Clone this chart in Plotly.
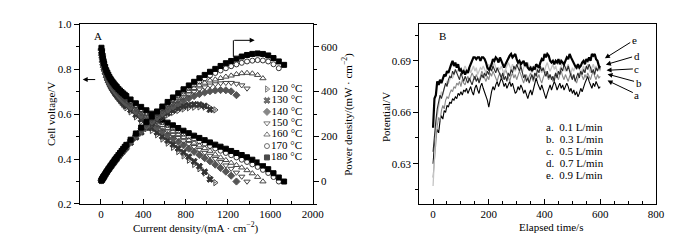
import plotly.graph_objects as go

# ---------------- Panel A data ----------------
TEMPS = ["120 °C", "130 °C", "140 °C", "150 °C", "160 °C", "170 °C", "180 °C"]

CURRENT = [5, 10, 15, 20, 25, 30, 40, 50, 60, 70, 80, 90, 100, 110, 120, 130, 140, 150,
           165, 180, 195, 210, 225, 240,
           280, 330, 380, 430, 480, 530, 580, 630, 680, 730, 780, 830, 880, 930, 980,
           1030, 1080, 1130, 1180, 1230, 1280, 1330, 1380, 1430, 1480, 1530, 1580,
           1630, 1680, 1730]

V_120 = [0.88, 0.858, 0.84, 0.825, 0.812, 0.801, 0.783, 0.768, 0.755, 0.744, 0.734, 0.725,
         0.716, 0.708, 0.70, 0.693, 0.686, 0.679, 0.67, 0.661, 0.652, 0.644, 0.636, 0.628,
         0.61, 0.588, 0.567, 0.547, 0.527, 0.508, 0.489, 0.471, 0.452, 0.433, 0.414, 0.395,
         0.376, 0.357, 0.338, 0.318, 0.295]
V_130 = [0.88, 0.86, 0.842, 0.827, 0.815, 0.804, 0.786, 0.771, 0.759, 0.748, 0.738, 0.729,
         0.72, 0.712, 0.705, 0.698, 0.691, 0.685, 0.676, 0.667, 0.659, 0.651, 0.643, 0.636,
         0.618, 0.597, 0.577, 0.557, 0.538, 0.519, 0.501, 0.483, 0.465, 0.447, 0.43, 0.41,
         0.39, 0.368, 0.343, 0.31]
V_140 = [0.885, 0.862, 0.845, 0.83, 0.818, 0.808, 0.79, 0.776, 0.764, 0.754, 0.744, 0.735,
         0.727, 0.72, 0.713, 0.706, 0.70, 0.694, 0.685, 0.677, 0.669, 0.662, 0.655, 0.648,
         0.632, 0.612, 0.593, 0.575, 0.557, 0.54, 0.523, 0.507, 0.491, 0.476, 0.461, 0.446,
         0.432, 0.418, 0.404, 0.39, 0.375, 0.36, 0.344, 0.326, 0.30]
V_150 = [0.885, 0.865, 0.848, 0.834, 0.822, 0.812, 0.795, 0.781, 0.77, 0.76, 0.75, 0.742,
         0.734, 0.727, 0.72, 0.714, 0.708, 0.702, 0.694, 0.686, 0.678, 0.671, 0.664, 0.658,
         0.642, 0.623, 0.605, 0.587, 0.57, 0.554, 0.538, 0.523, 0.508, 0.494, 0.48, 0.467,
         0.454, 0.441, 0.428, 0.415, 0.401, 0.387, 0.372, 0.357, 0.34, 0.322, 0.30]
V_160 = [0.89, 0.868, 0.852, 0.838, 0.827, 0.817, 0.80, 0.786, 0.775, 0.765, 0.756, 0.748,
         0.74, 0.733, 0.726, 0.72, 0.714, 0.708, 0.70, 0.692, 0.685, 0.678, 0.672, 0.666,
         0.65, 0.632, 0.614, 0.597, 0.581, 0.566, 0.551, 0.537, 0.523, 0.51, 0.497, 0.484,
         0.472, 0.46, 0.448, 0.436, 0.42, 0.407, 0.395, 0.383, 0.373, 0.362, 0.35, 0.336,
         0.32, 0.30]
V_170 = [0.89, 0.87, 0.855, 0.84, 0.83, 0.82, 0.805, 0.79, 0.78, 0.77, 0.76, 0.752,
         0.745, 0.738, 0.732, 0.726, 0.72, 0.714, 0.706, 0.699, 0.692, 0.686, 0.68, 0.674,
         0.658, 0.64, 0.623, 0.607, 0.592, 0.578, 0.564, 0.551, 0.538, 0.525, 0.513, 0.501,
         0.49, 0.479, 0.468, 0.458, 0.447, 0.437, 0.427, 0.417, 0.407, 0.397, 0.387, 0.376,
         0.365, 0.352, 0.338, 0.32, 0.30]
V_180 = [0.895, 0.875, 0.86, 0.845, 0.835, 0.825, 0.81, 0.795, 0.785, 0.775, 0.765, 0.757,
         0.75, 0.743, 0.737, 0.731, 0.725, 0.72, 0.712, 0.705, 0.698, 0.692, 0.686, 0.68,
         0.665, 0.648, 0.632, 0.617, 0.602, 0.588, 0.575, 0.562, 0.55, 0.538, 0.526, 0.515,
         0.504, 0.494, 0.484, 0.474, 0.464, 0.455, 0.446, 0.436, 0.427, 0.418, 0.408, 0.397,
         0.385, 0.371, 0.355, 0.337, 0.318, 0.30]
VOLTAGES = [V_120, V_130, V_140, V_150, V_160, V_170, V_180]

# ---------------- Panel B data (potential in mV, every 5 s) ----------------
FLOW_LABELS = ["a.  0.1 L/min", "b.  0.3 L/min", "c.  0.5 L/min", "d.  0.7 L/min", "e.  0.9 L/min"]
TIME_S = list(range(0, 601, 5))

E_09 = [651, 668, 670, 678, 676, 679, 677, 680, 682, 681, 684, 683,
        686, 688, 690, 687, 689, 686, 688, 684, 685, 683, 684, 682,
        684, 683, 686, 688, 691, 692, 692, 691, 692, 692, 690, 692,
        692, 691, 689, 686, 685, 686, 688, 691, 690, 692, 691, 689,
        692, 690, 687, 686, 688, 690, 692, 693, 694, 692, 693, 694,
        691, 689, 690, 688, 689, 690, 687, 689, 686, 685, 686, 684,
        686, 685, 688, 687, 686, 689, 691, 690, 694, 692, 694, 693,
        690, 689, 690, 688, 690, 689, 691, 688, 690, 689, 688, 690,
        692, 691, 694, 692, 690, 688, 687, 686, 688, 686, 687, 689,
        690, 688, 691, 690, 692, 690, 694, 693, 694, 691, 690, 687,
        686]
D_07 = [637, 648, 655, 662, 666, 670, 668, 672, 674, 677, 675, 679,
        681, 680, 684, 682, 685, 683, 681, 679, 683, 680, 678, 681,
        679, 677, 680, 678, 676, 679, 681, 678, 680, 677, 679, 682,
        680, 683, 681, 684, 682, 686, 684, 687, 685, 683, 686, 684,
        682, 680, 683, 679, 681, 678, 683, 681, 685, 683, 687, 685,
        688, 686, 684, 687, 683, 680, 682, 678, 680, 677, 680, 682,
        679, 683, 681, 685, 683, 687, 684, 686, 683, 681, 684, 680,
        682, 679, 681, 678, 683, 680, 684, 682, 686, 684, 688, 686,
        684, 687, 683, 681, 679, 682, 678, 681, 683, 680, 684, 682,
        685, 683, 687, 685, 688, 686, 683, 685, 682, 686, 684, 687,
        685]
C_05 = [617, 636, 650, 658, 664, 668, 672, 670, 674, 676, 678, 677,
        679, 681, 680, 682, 684, 683, 685, 684, 686, 683, 685, 687,
        685, 684, 686, 683, 685, 687, 684, 686, 682, 684, 686, 685,
        687, 685, 683, 686, 688, 686, 684, 687, 689, 686, 684, 686,
        685, 687, 684, 682, 685, 687, 689, 687, 685, 688, 686, 684,
        686, 689, 687, 685, 683, 686, 688, 686, 689, 687, 685, 683,
        685, 687, 684, 686, 688, 685, 683, 686, 684, 687, 689, 686,
        684, 686, 688, 685, 687, 684, 682, 685, 687, 689, 686, 684,
        686, 688, 685, 683, 686, 684, 687, 685, 688, 686, 683, 685,
        687, 684, 686, 688, 685, 683, 686, 688, 685, 687, 684, 686,
        684]
B_03 = [622, 634, 645, 652, 657, 655, 661, 664, 662, 667, 669, 668,
        671, 673, 672, 675, 674, 677, 676, 678, 675, 679, 677, 676,
        679, 681, 678, 680, 683, 681, 679, 682, 680, 678, 681, 684,
        682, 680, 678, 681, 679, 683, 681, 684, 682, 680, 678, 681,
        683, 681, 679, 682, 685, 683, 680, 678, 681, 683, 680, 682,
        679, 681, 684, 682, 679, 677, 680, 682, 679, 681, 683, 680,
        678, 681, 683, 680, 682, 679, 677, 680, 682, 684, 681, 679,
        682, 680, 678, 681, 683, 681, 679, 682, 684, 681, 679, 682,
        680, 678, 681, 683, 680, 682, 679, 677, 680, 682, 684, 681,
        679, 682, 680, 683, 681, 679, 682, 684, 681, 679, 682, 680,
        681]
A_01 = [630, 641, 646, 650, 648, 655, 658, 656, 661, 660, 664, 663,
        666, 665, 668, 667, 669, 668, 671, 670, 672, 670, 673, 672,
        674, 671, 673, 675, 672, 670, 674, 676, 673, 671, 675, 677,
        674, 672, 670, 667, 663, 668, 672, 675, 673, 676, 678, 675,
        677, 680, 678, 675, 677, 674, 676, 678, 675, 677, 674, 671,
        672, 675, 673, 676, 674, 671, 673, 670, 668, 671, 673, 670,
        674, 678, 680, 677, 675, 673, 676, 673, 670, 668, 671, 674,
        676, 673, 675, 678, 676, 673, 675, 677, 674, 676, 673, 675,
        677, 675, 672, 674, 671, 673, 670, 672, 669, 671, 674, 672,
        675, 677, 679, 681, 678, 676, 674, 677, 675, 678, 676, 674,
        675]
POTENTIALS_MV = [A_01, B_03, C_05, D_07, E_09]

# ---------------- styles ----------------
FONT = "Liberation Serif, Times New Roman, serif"
SYMBOLS = ["triangle-right-open-dot", "x", "diamond", "triangle-down-open",
           "triangle-up-open", "circle-open", "square"]
MCOLORS = ["#444444", "#333333", "#555555", "#444444", "#444444", "#333333", "#000000"]
MSIZES = [5.5, 5.5, 5.5, 5.5, 5.5, 5, 5]
LCOLORS = ["#000000", "#888888", "#c4c4c4", "#2a2a2a", "#000000"]
LWIDTHS = [1.1, 1.1, 1.3, 1.1, 2.2]

W, H = 700, 240
def px(x):
    return x / W
def py(y):
    return 1 - y / H

fig = go.Figure()

# Panel A: voltage and power for each temperature
for k, (name, volts) in enumerate(zip(TEMPS, VOLTAGES)):
    cur = CURRENT[:len(volts)]
    power = [c * v for c, v in zip(cur, volts)]
    mk = dict(symbol=SYMBOLS[k], size=MSIZES[k], color=MCOLORS[k],
              line=dict(color=MCOLORS[k], width=1))
    fig.add_trace(go.Scatter(x=cur, y=volts, mode="markers", marker=mk,
                             xaxis="x", yaxis="y", showlegend=False, name=name))
    fig.add_trace(go.Scatter(x=cur, y=power, mode="markers", marker=mk,
                             xaxis="x", yaxis="y2", showlegend=False, name=name))

# Panel A legend keys (on a hidden helper axis)
fig.add_trace(go.Scatter(
    x=[0] * len(TEMPS), y=list(range(len(TEMPS))), mode="markers+text",
    text=TEMPS, textposition="middle right", cliponaxis=False,
    textfont=dict(family=FONT, size=11, color="black"),
    marker=dict(symbol=SYMBOLS, size=MSIZES, color=MCOLORS,
                line=dict(color=MCOLORS, width=1)),
    xaxis="x3", yaxis="y4", showlegend=False, hoverinfo="skip"))

# Panel B lines
for k, (lab, vals) in enumerate(zip(FLOW_LABELS, POTENTIALS_MV)):
    fig.add_trace(go.Scatter(x=TIME_S, y=[v / 1000 for v in vals], mode="lines",
                             line=dict(color=LCOLORS[k], width=LWIDTHS[k]),
                             xaxis="x2", yaxis="y3", showlegend=False, name=lab))

axis_common = dict(showline=True, linecolor="black", linewidth=1, showgrid=False,
                   zeroline=False, tickfont=dict(family=FONT, size=11, color="black"),
                   tickcolor="black", ticklen=5, tickwidth=1)

fig.update_layout(
    width=W, height=H, margin=dict(l=0, r=0, t=0, b=0),
    paper_bgcolor="white", plot_bgcolor="white", showlegend=False,
    font=dict(family=FONT, size=11, color="black"),
    xaxis=dict(domain=[px(73), px(310)], range=[-200, 2000], tickvals=[0, 400, 800, 1200, 1600, 2000],
               ticks="inside", mirror=True, anchor="y",
               minor=dict(dtick=200, tick0=0, ticks="inside", ticklen=3, tickcolor="black"),
               **axis_common),
    yaxis=dict(domain=[py(200), py(10.7)], range=[0.2, 1.0], tickvals=[0.2, 0.4, 0.6, 0.8, 1.0],
               tickformat=".1f", ticks="outside", anchor="x",
               minor=dict(dtick=0.1, tick0=0.2, ticks="outside", ticklen=3, tickcolor="black"),
               **axis_common),
    yaxis2=dict(overlaying="y", side="right", anchor="x", range=[-100, 700],
                tickvals=[0, 200, 400, 600], ticks="outside",
                minor=dict(dtick=100, tick0=0, ticks="outside", ticklen=3, tickcolor="black"),
                **axis_common),
    xaxis2=dict(domain=[px(418.3), px(659.3)], range=[-50, 800], tickvals=[0, 200, 400, 600, 800],
                ticks="inside", mirror=True, anchor="y3",
                minor=dict(dtick=50, tick0=0, ticks="inside", ticklen=3, tickcolor="black"),
                **axis_common),
    yaxis3=dict(domain=[py(200), py(10.7)], range=[0.6065, 0.7114], tickvals=[0.63, 0.66, 0.69],
                tickformat=".2f", ticks="outside", mirror=True, anchor="x2",
                minor=dict(dtick=0.015, tick0=0.6, ticks="outside", ticklen=3, tickcolor="black"),
                **axis_common),
    xaxis3=dict(domain=[px(256), px(271)], range=[-1, 1], visible=False, anchor="y4"),
    yaxis4=dict(domain=[py(157), py(73)], range=[6.5, -0.5], visible=False, anchor="x3"),
)

ann = []
def text(x, y, s, **kw):
    d = dict(x=px(x), y=py(y), xref="paper", yref="paper", text=s, showarrow=False,
             xanchor="center", yanchor="middle",
             font=dict(family=FONT, size=11, color="black"))
    d.update(kw)
    ann.append(d)

# axis titles
text(43, 105, "Cell voltage/V", textangle=-90)
text(346, 106, "Power density/(mW · cm<sup>−2</sup>)", textangle=-90)
text(191, 224.5, "Current density/(mA · cm<sup>−2</sup>)")
text(384, 108, "Potential/V", textangle=-90)
text(552, 224.5, "Elapsed time/s")

# panel letters
text(92, 23, "A")
text(442, 23, "B")

# Panel B legend
for i, lab in enumerate(FLOW_LABELS):
    text(545, 119.3 + 12.5 * i, lab, xanchor="left")

# Panel A arrows
ann.append(dict(x=px(76), y=py(69), xref="paper", yref="paper", ax=14, ay=0, text="",
                showarrow=True, arrowhead=2, arrowsize=1, arrowwidth=1, arrowcolor="black"))
ann.append(dict(x=px(251), y=py(27.7), xref="paper", yref="paper", ax=-22, ay=0, text="",
                showarrow=True, arrowhead=2, arrowsize=1, arrowwidth=1, arrowcolor="black"))

# Panel B labels with arrows
B_ARROWS = [("e", 636.7, 28.3, 607.3, 46.7), ("d", 639, 44.3, 608.3, 53.3),
            ("c", 639.3, 57.7, 609, 59.3), ("b", 641, 71.7, 610, 63.3),
            ("a", 639.3, 84, 610, 70)]
for lab, tx, ty, hx, hy in B_ARROWS:
    ann.append(dict(x=px(hx), y=py(hy), xref="paper", yref="paper",
                    ax=tx - hx, ay=ty - hy, text=lab, showarrow=True,
                    arrowhead=2, arrowsize=1, arrowwidth=1, arrowcolor="black",
                    font=dict(family=FONT, size=11, color="black")))

fig.update_layout(annotations=ann)
fig.add_shape(type="line", xref="paper", yref="paper", x0=px(229.3), x1=px(229.3),
              y0=py(45), y1=py(27.7), line=dict(color="black", width=1))

fig.write_html("out.html")
